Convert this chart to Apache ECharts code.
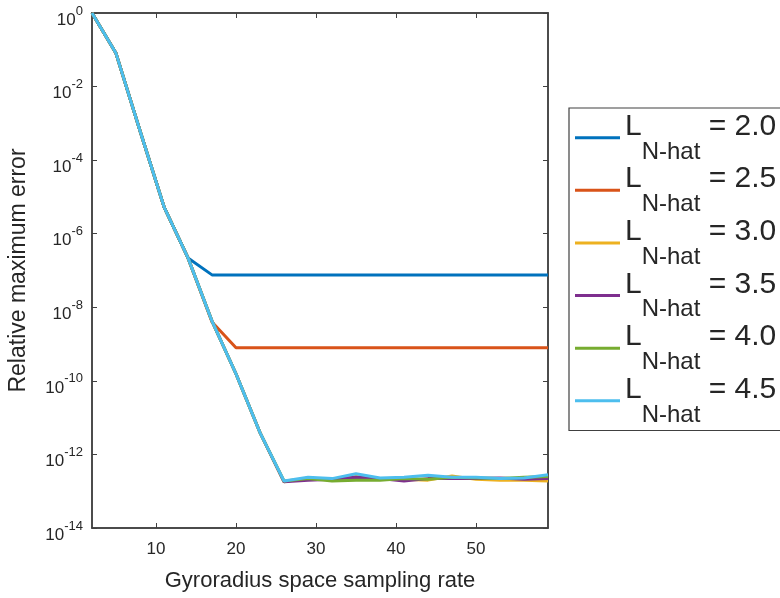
<!DOCTYPE html>
<html><head><meta charset="utf-8">
<script src="https://cdn.jsdelivr.net/npm/echarts@6/dist/echarts.min.js"></script>
<style>html,body{margin:0;padding:0;background:#fff}#c{width:780px;height:598px}</style>
</head><body><div id="c"></div>
<script>
const xVals = [2,5,8,11,14,17,20,23,26,29,32,35,38,41,44,47,50,53,56,59];
const xTicks = [10,20,30,40,50];
const yTicks = [1,1e-2,1e-4,1e-6,1e-8,1e-10,1e-12,1e-14];
const names = ['2.0','2.5','3.0','3.5','4.0','4.5'];
const colors = ['#0072BD','#D95319','#EDB120','#7E2F8E','#77AC30','#4DBEEE'];

const s20 = [1,0.08,6.3e-4,5.4e-6,2.2e-7,7.6e-8,7.6e-8,7.6e-8,7.6e-8,7.6e-8,7.6e-8,7.6e-8,7.6e-8,7.6e-8,7.6e-8,7.6e-8,7.6e-8,7.6e-8,7.6e-8,7.6e-8];
const s25 = [1,0.08,6.3e-4,5.4e-6,2.2e-7,4.0e-9,7.9e-10,7.9e-10,7.9e-10,7.9e-10,7.9e-10,7.9e-10,7.9e-10,7.9e-10,7.9e-10,7.9e-10,7.9e-10,7.9e-10,7.9e-10,7.9e-10];
const s30 = [1,0.08,6.3e-4,5.4e-6,2.2e-7,4.2e-9,1.55e-10,3.9e-12,1.8e-13,2.3e-13,2.0e-13,2.5e-13,2.1e-13,2.1e-13,2.0e-13,2.6e-13,2.1e-13,2.0e-13,2.0e-13,1.9e-13];
const s35 = [1,0.08,6.3e-4,5.4e-6,2.2e-7,4.2e-9,1.55e-10,3.9e-12,1.8e-13,2.0e-13,2.1e-13,2.4e-13,2.2e-13,1.9e-13,2.2e-13,2.2e-13,2.2e-13,2.3e-13,2.1e-13,2.2e-13];
const s40 = [1,0.08,6.3e-4,5.4e-6,2.2e-7,4.2e-9,1.55e-10,3.9e-12,1.9e-13,2.2e-13,1.9e-13,2.0e-13,2.0e-13,2.2e-13,2.1e-13,2.4e-13,2.3e-13,2.2e-13,2.4e-13,2.5e-13];
const s45 = [1,0.08,6.3e-4,5.4e-6,2.2e-7,4.2e-9,1.55e-10,3.9e-12,1.9e-13,2.4e-13,2.2e-13,3.0e-13,2.3e-13,2.4e-13,2.7e-13,2.4e-13,2.4e-13,2.2e-13,2.3e-13,2.8e-13];
const allSeries = [s20,s25,s30,s35,s40,s45];

const txt = '#262626';
const font = 'Liberation Sans, Arial, sans-serif';
const chart = echarts.init(document.getElementById('c'));

function yLab(v){
  const e = Math.round(Math.log10(v));
  return '{b|10}{s|' + e + '}';
}
const yRich = {
  b:{fontSize:17,color:txt,fontFamily:font,verticalAlign:'bottom',padding:[10,0,0,0]},
  s:{fontSize:13,color:txt,fontFamily:font,verticalAlign:'top',padding:[3,0,0,0]}
};

chart.setOption({
  animation:false,
  backgroundColor:'#fff',
  grid:{left:92,right:232,top:13,bottom:70,outerBoundsMode:'none',containLabel:false,
        show:true,borderColor:'#404040',borderWidth:1.5,backgroundColor:'transparent'},
  xAxis:[{
    type:'value',min:2,max:59,
    name:'Gyroradius space sampling rate',nameLocation:'middle',nameGap:42,
    nameTextStyle:{fontSize:22,color:txt,fontFamily:font},
    axisLine:{show:true,lineStyle:{color:'#404040',width:1.5}},
    axisTick:{show:true,inside:true,length:5,customValues:xTicks,lineStyle:{color:'#404040'}},
    axisLabel:{customValues:xTicks,fontSize:17,color:txt,fontFamily:font,margin:13},
    splitLine:{show:false}
  },{
    type:'value',min:2,max:59,position:'top',
    axisLine:{show:true,lineStyle:{color:'#404040',width:1.5}},
    axisTick:{show:true,inside:true,length:5,customValues:xTicks,lineStyle:{color:'#404040'}},
    axisLabel:{show:false},splitLine:{show:false}
  }],
  yAxis:[{
    type:'log',logBase:10,min:1e-14,max:1,
    name:'Relative maximum error',nameLocation:'middle',nameGap:62,
    nameTextStyle:{fontSize:23,color:txt,fontFamily:font},
    axisLine:{show:true,lineStyle:{color:'#404040',width:1.5}},
    axisTick:{show:true,inside:true,length:5,customValues:yTicks,lineStyle:{color:'#404040'}},
    axisLabel:{customValues:yTicks,formatter:yLab,rich:yRich,margin:9,padding:[4,0,0,0]},
    minorTick:{show:false},splitLine:{show:false}
  },{
    type:'log',logBase:10,min:1e-14,max:1,position:'right',
    axisLine:{show:true,lineStyle:{color:'#404040',width:1.5}},
    axisTick:{show:true,inside:true,length:5,customValues:yTicks,lineStyle:{color:'#404040'}},
    axisLabel:{show:false},splitLine:{show:false}
  }],
  legend:{
    orient:'vertical',left:569,top:108,
    backgroundColor:'#fff',borderColor:'#404040',borderWidth:1.2,
    padding:[3.5,30,3.5,6],itemGap:0.1,
    icon:'rect',itemWidth:45,itemHeight:3,
    data:names.map(n=>'L = '+n),
    formatter:function(name){
      return '{l|L}{sub|N-hat}{e| = ' + name.slice(4) + '}';
    },
    textStyle:{
      rich:{
        l:{fontSize:30,color:txt,fontFamily:font,verticalAlign:'top',lineHeight:20},
        sub:{fontSize:24,color:txt,fontFamily:font,verticalAlign:'bottom',padding:[28.5,0,0,0]},
        e:{fontSize:30,color:txt,fontFamily:font,verticalAlign:'top',lineHeight:20}
      }
    }
  },
  series: allSeries.map((d,i)=>({
    name:'L = '+names[i],
    type:'line',
    data:xVals.map((x,j)=>[x,d[j]]),
    showSymbol:false,symbol:'none',
    lineStyle:{color:colors[i],width:3},
    itemStyle:{color:colors[i]},
    z:2+i
  }))
});
</script>
</body></html>
